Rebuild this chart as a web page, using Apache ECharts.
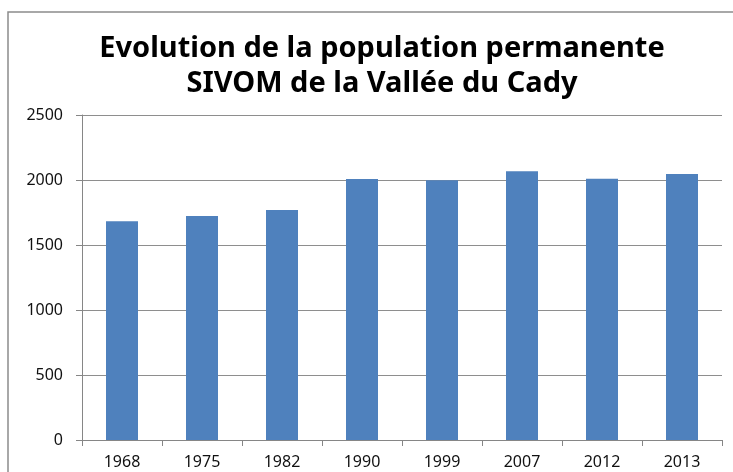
<!DOCTYPE html>
<html>
<head>
<meta charset="utf-8">
<script src="https://cdn.jsdelivr.net/npm/echarts@6/dist/echarts.min.js"></script>
<style>
  html, body { margin: 0; padding: 0; background: #fff; }
  #chart { width: 733px; height: 472px; }
</style>
</head>
<body>
<div id="chart"></div>
<script>
// années du recensement
var years = ['1968', '1975', '1982', '1990', '1999', '2007', '2012', '2013'];
// population permanente
var population = [1682, 1723, 1769, 2008, 1998, 2067, 2010, 2046];
var yTicks = [0, 500, 1000, 1500, 2000, 2500];

var chart = echarts.init(document.getElementById('chart'));
chart.setOption({
    animation: false,
    backgroundColor: '#fff',
    title: {
        text: 'Evolution de la population permanente\nSIVOM de la Vallée du Cady',
        left: 377,
        top: 26,
        textAlign: 'center',
        textStyle: {
            fontFamily: 'Noto Sans',
            fontWeight: 'bold',
            fontSize: 29,
            lineHeight: 35,
            color: '#000'
        }
    },
    graphic: [{
        type: 'rect',
        shape: { x: 8, y: 12, width: 740, height: 480 },
        style: { fill: 'none', stroke: '#8c8c8c', lineWidth: 1.5 }
    }],
    grid: { left: 82, right: 11, top: 115, bottom: 32 },
    xAxis: {
        type: 'category',
        data: years,
        axisLine: { lineStyle: { color: '#868686' } },
        axisTick: { show: true, length: 6, lineStyle: { color: '#868686' } },
        axisLabel: { color: '#111', fontFamily: 'Noto Sans', fontSize: 16, margin: 14 }
    },
    yAxis: {
        type: 'value',
        min: yTicks[0],
        max: yTicks[yTicks.length - 1],
        interval: 500,
        axisLine: { show: true, lineStyle: { color: '#868686' } },
        axisTick: { show: true, length: 6, lineStyle: { color: '#868686' } },
        axisLabel: {
            color: '#111', fontFamily: 'Noto Sans', fontSize: 16, margin: 19,
            formatter: function (v) { return String(v); }
        },
        splitLine: { lineStyle: { color: '#8e8e8e' } }
    },
    series: [{
        type: 'bar',
        data: population,
        barWidth: '40%',
        itemStyle: { color: '#4f81bd' }
    }]
});
</script>
</body>
</html>
